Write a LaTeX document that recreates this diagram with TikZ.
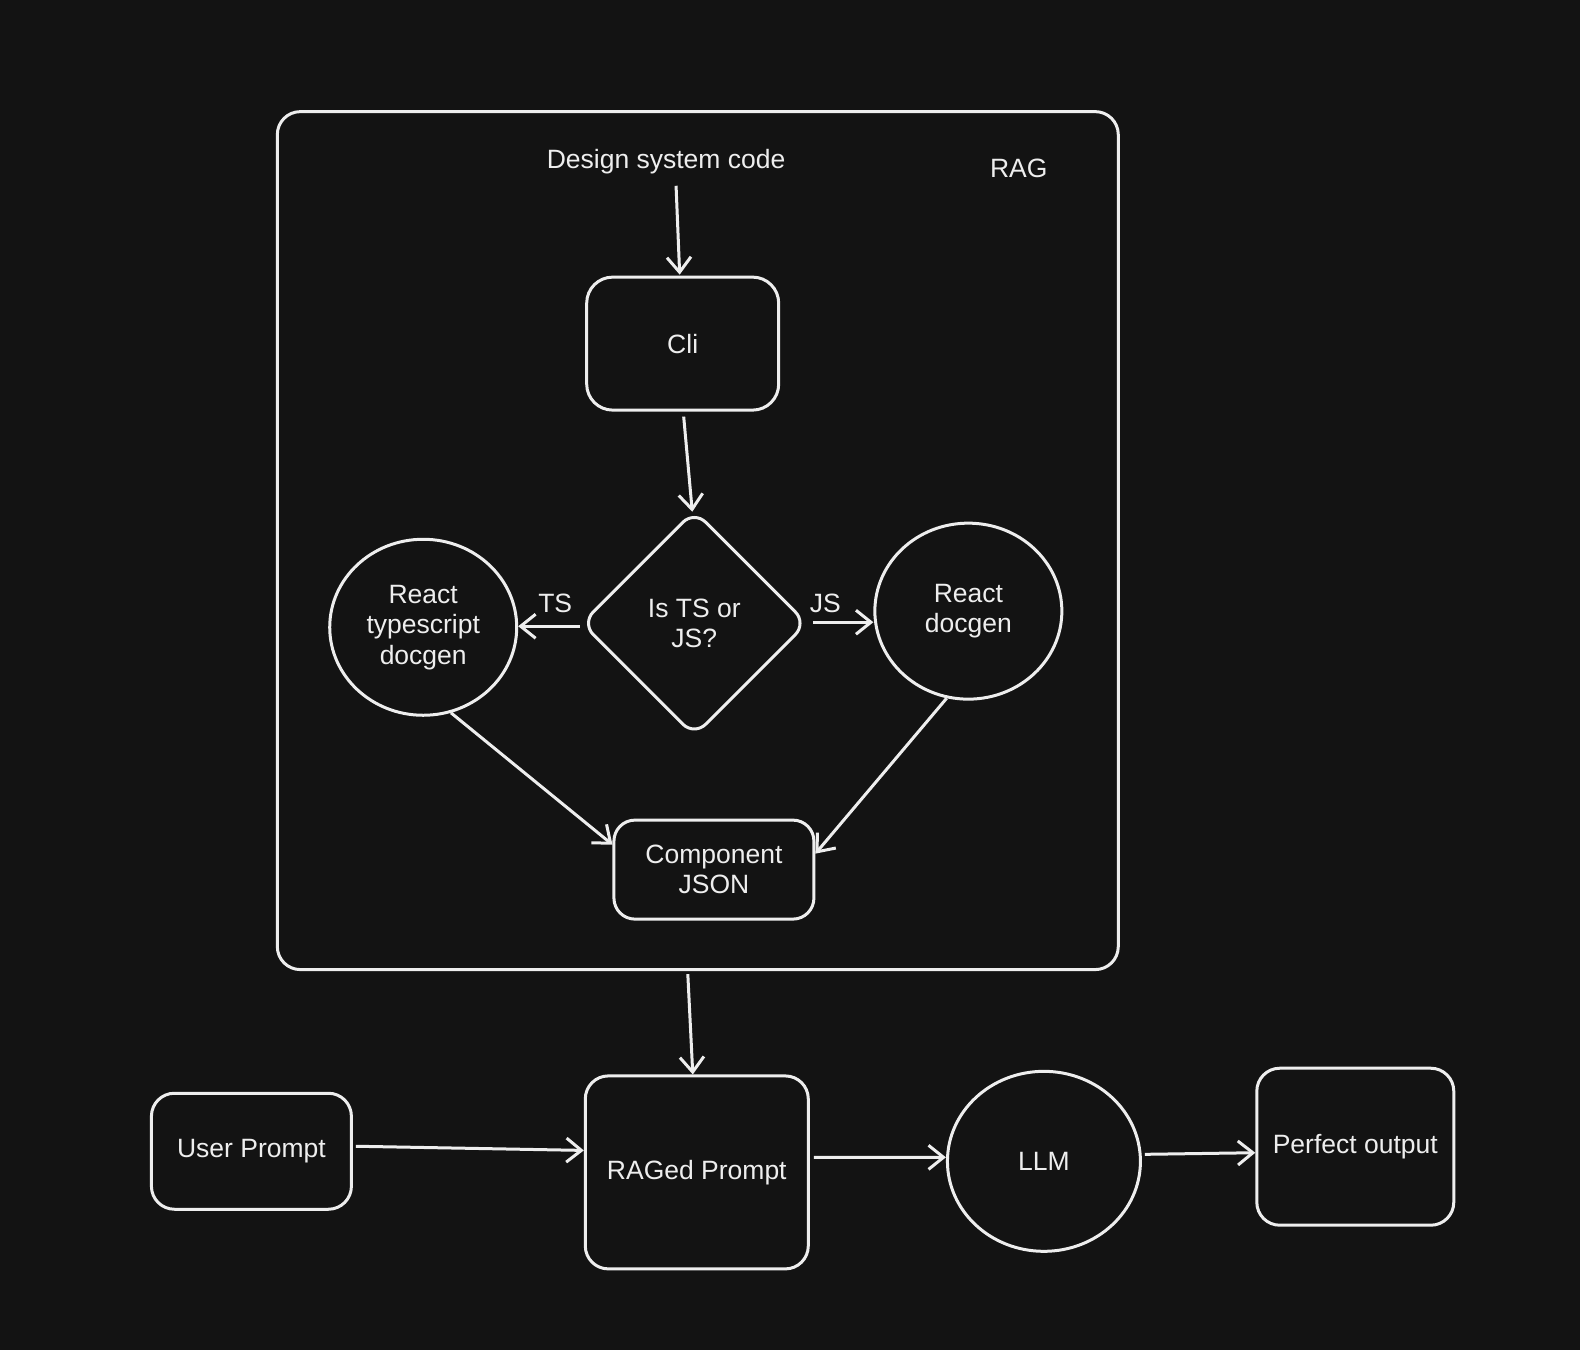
\documentclass[tikz,border=0pt]{standalone}
\usepackage{fontspec}
\setmainfont{Liberation Sans}
\usetikzlibrary{shapes.geometric,arrows.meta}
\definecolor{bg}{HTML}{131313}
\definecolor{fg}{HTML}{EEEEEE}
\tikzset{
  base/.style={draw=fg, line width=3pt, text=fg, align=center, inner sep=0pt,
    font=\fontsize{26.5}{30.5}\selectfont},
  rbox/.style={base, rectangle, rounded corners=23pt},
  oval/.style={base, ellipse},
  dia/.style={base, diamond, rounded corners=16pt},
  lbl/.style={text=fg, font=\fontsize{26.5}{30.5}\selectfont, align=center, inner sep=0pt},
  arr/.style={draw=fg, line width=3pt, -{Straight Barb[length=15pt,width=24pt,line width=3pt]}}
}
\begin{document}
\begin{tikzpicture}[x=1.0077pt,y=-1.0077pt]
\fill[bg] (0,0) rectangle (1568,1340);
\useasboundingbox (0,0) rectangle (1568,1340);

\node[rbox, minimum width=841pt, minimum height=858pt] (rag) at (692.5,536.5) {};
\node[lbl] (ragl) at (1011,167) {RAG};
\node[lbl] (dsc) at (661,160) {Design system code};
\node[rbox, minimum width=192pt, minimum height=133pt, rounded corners=26pt] (cli) at (677.5,341) {Cli};
\node[dia, minimum width=226pt, minimum height=226pt] (isd) at (689,618.5) {Is TS or\\JS?};
\node[oval, minimum width=187pt, minimum height=176pt] (lc) at (420,622.5) {React\\typescript\\docgen};
\node[oval, minimum width=187pt, minimum height=176pt] (rc) at (961,606.5) {React\\docgen};
\node[rbox, minimum width=200pt, minimum height=99pt, rounded corners=21pt] (json) at (708.5,863) {Component\\JSON};
\node[lbl] (tsl) at (551,599) {TS};
\node[lbl] (jsl) at (819,599) {JS};

\node[rbox, minimum width=223pt, minimum height=193pt] (raged) at (691.5,1163.5) {RAGed Prompt};
\node[rbox, minimum width=200pt, minimum height=116pt] (up) at (249.5,1142.5) {User Prompt};
\node[oval, minimum width=193pt, minimum height=180pt] (llm) at (1036,1152.5) {LLM};
\node[rbox, minimum width=197pt, minimum height=157pt] (po) at (1345,1138) {Perfect output};

\coordinate (jsa) at ([xshift=4pt,yshift=1pt]isd.east);
\coordinate (tsa) at ([yshift=-3pt]isd.west);
\draw[arr] ([xshift=10pt,yshift=-12pt]dsc.south) -- ([xshift=-3pt,yshift=1pt]cli.north);
\draw[arr] ([xshift=1pt,yshift=-5pt]cli.south) -- ([xshift=-2pt,yshift=-3pt]isd.north);
\draw[arr] (tsa) -- (lc.east |- tsa);
\draw[arr] (jsa) -- (rc.west |- jsa);
\draw[arr] (lc.-72) -- ([yshift=25pt]json.west);
\draw[arr] (rc.-104) -- ([yshift=16pt]json.east);
\draw[arr] ([xshift=-10pt,yshift=-3pt]rag.south) -- ([xshift=-4pt]raged.north);
\draw[arr] ([xshift=3pt,yshift=5pt]up.east) -- ([yshift=22pt]raged.west);
\draw[arr] ([xshift=4pt,yshift=15pt]raged.east) -- ([yshift=4pt]llm.west);
\draw[arr] ([xshift=3pt,yshift=7pt]llm.east) -- ([yshift=-6pt]po.west);
\end{tikzpicture}
\end{document}
